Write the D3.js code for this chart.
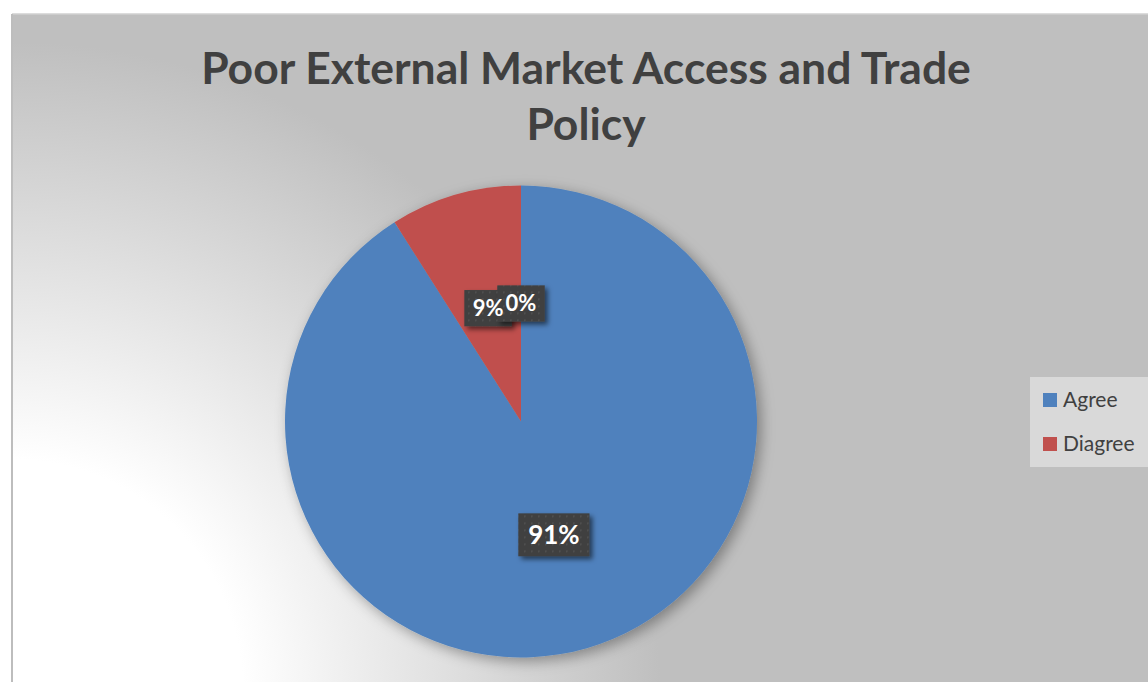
<!DOCTYPE html>
<html>
<head>
<meta charset="utf-8">
<script src="https://cdn.jsdelivr.net/npm/d3@7/dist/d3.min.js"></script>
<style>
  html, body { margin: 0; padding: 0; background: #ffffff; }
  svg { display: block; }
</style>
</head>
<body>
<svg id="chart" width="1148" height="682"></svg>
<script>
// Survey responses
const categories = ["Agree", "Diagree", ""];
const values = [91, 9, 0];
const percentLabels = ["91%", "9%", "0%"];
const colors = ["#4F81BD", "#C0504D", "#9BBB59"];
const titleLines = ["Poor External Market Access and Trade", "Policy"];

const W = 1148, H = 682;
const svg = d3.select("#chart");
const defs = svg.append("defs");

// Chart-area background: light corner fading into grey
const bg = defs.append("radialGradient")
  .attr("id", "bgGrad")
  .attr("gradientUnits", "userSpaceOnUse")
  .attr("cx", 12).attr("cy", 690).attr("r", 720);
bg.append("stop").attr("offset", 0).attr("stop-color", "#ffffff");
bg.append("stop").attr("offset", 0.32).attr("stop-color", "#ffffff");
bg.append("stop").attr("offset", 0.9).attr("stop-color", "#bfbfbf");
bg.append("stop").attr("offset", 1).attr("stop-color", "#bfbfbf");

// Soft shadow behind the pie
const pieShadow = defs.append("filter").attr("id", "pieShadow")
  .attr("x", "-20%").attr("y", "-20%").attr("width", "140%").attr("height", "140%");
pieShadow.append("feDropShadow")
  .attr("dx", 4).attr("dy", 4).attr("stdDeviation", 7)
  .attr("flood-color", "#000").attr("flood-opacity", 0.35);

// Shadow for data-label boxes
const boxShadow = defs.append("filter").attr("id", "boxShadow")
  .attr("x", "-30%").attr("y", "-30%").attr("width", "160%").attr("height", "160%");
boxShadow.append("feDropShadow")
  .attr("dx", 3).attr("dy", 3).attr("stdDeviation", 2.5)
  .attr("flood-color", "#000").attr("flood-opacity", 0.55);

// Dotted texture of the label boxes
const pat = defs.append("pattern").attr("id", "dots")
  .attr("patternUnits", "userSpaceOnUse").attr("width", 7).attr("height", 7);
pat.append("rect").attr("width", 7).attr("height", 7).attr("fill", "#404040");
pat.append("rect").attr("x", 3).attr("y", 3).attr("width", 1.5).attr("height", 1.5).attr("fill", "#555555");

// Chart area
svg.append("rect")
  .attr("x", 12).attr("y", 14).attr("width", W).attr("height", H)
  .attr("fill", "url(#bgGrad)");
svg.append("line").attr("x1", 12).attr("y1", 14).attr("x2", W).attr("y2", 14)
  .attr("stroke", "#d0d0d0").attr("stroke-width", 1.5);
svg.append("line").attr("x1", 12).attr("y1", 14).attr("x2", 12).attr("y2", H)
  .attr("stroke", "#bdbdbd").attr("stroke-width", 2);

// Title, sized so the first line spans the header width
const titleFont = "Lato, 'Open Sans', sans-serif";
const title = svg.append("g");
const probe = title.append("text")
  .attr("font-family", titleFont).attr("font-weight", 700).attr("font-size", 40)
  .text(titleLines[0]);
const probeW = probe.node().getComputedTextLength();
probe.remove();
const titleSize = 40 * 770 / probeW;
titleLines.forEach((t, i) => {
  title.append("text")
    .attr("x", 586).attr("y", 84 + i * 56)
    .attr("text-anchor", "middle")
    .attr("font-family", titleFont).attr("font-weight", 700)
    .attr("font-size", Math.min(titleSize, 46))
    .attr("fill", "#404040")
    .text(t);
});

// Pie
const cx = 521, cy = 421.5, R = 236;
const data = categories.map((c, i) => ({ name: c, value: values[i], label: percentLabels[i], color: colors[i] }));
const pie = d3.pie().sort(null).value(d => d.value).startAngle(0).endAngle(2 * Math.PI);
const arcs = pie(data);
const arc = d3.arc().innerRadius(0).outerRadius(R);

const pieG = svg.append("g").attr("transform", `translate(${cx},${cy})`);
pieG.append("g").attr("filter", "url(#pieShadow)")
  .selectAll("path")
  .data(arcs.filter(a => a.data.value > 0))
  .join("path")
  .attr("d", arc)
  .attr("fill", d => d.data.color);

// Data labels at the slice centroids: boxes first, then all texts on top
const labelSizes = [26, 22, 22];
const boxLayer = pieG.append("g");
const textLayer = pieG.append("g");
arcs.forEach((a, i) => {
  const [lx, ly] = arc.centroid(a);
  const fs = labelSizes[i];
  const txt = textLayer.append("text")
    .attr("x", lx).attr("y", ly)
    .attr("text-anchor", "middle")
    .attr("dy", "0.36em")
    .attr("font-family", titleFont).attr("font-weight", 700)
    .attr("font-size", fs).attr("fill", "#ffffff")
    .text(a.data.label);
  const bb = txt.node().getBBox();
  const padX = fs * 0.38, h = fs * 1.65;
  boxLayer.append("rect")
    .attr("x", bb.x - padX).attr("y", ly - h / 2)
    .attr("width", bb.width + 2 * padX).attr("height", h)
    .attr("fill", "url(#dots)")
    .attr("filter", "url(#boxShadow)");
});

// Legend
const legendItems = data.filter(d => d.name !== "");
const legend = svg.append("g").attr("transform", "translate(1030,377)");
legend.append("rect").attr("width", 130).attr("height", 90).attr("fill", "#d9d9d9");
legendItems.forEach((d, i) => {
  const row = legend.append("g").attr("transform", `translate(13,${16 + i * 44})`);
  row.append("rect").attr("width", 14).attr("height", 14).attr("fill", d.color);
  row.append("text")
    .attr("x", 20).attr("y", 14)
    .attr("font-family", titleFont).attr("font-size", 21)
    .attr("fill", "#404040")
    .text(d.name);
});
</script>
</body>
</html>
